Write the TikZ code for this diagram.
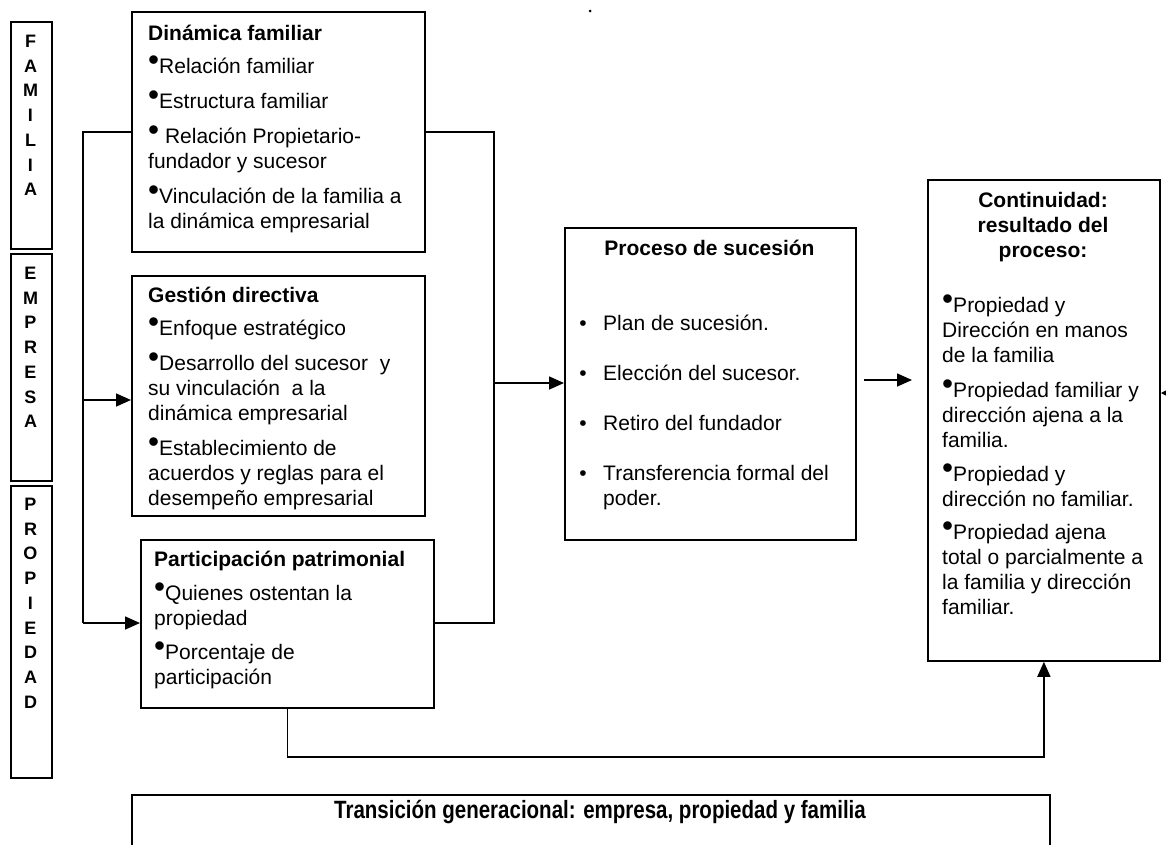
\documentclass[tikz,border=0pt]{standalone}
\usepackage{fontspec}
\setmainfont{Liberation Sans}
\usepackage{graphicx}
\usetikzlibrary{arrows.meta}

% raised bullet used in the item lists
\newcommand\bul{\raisebox{3pt}{\scalebox{1.5}{•}}}
% list bullet hanging left of the text
\newcommand\lbul{\llap{•\hspace{16.5pt}}}
% fixed first-line height so block tops are predictable
\newcommand\fl{\rule{0pt}{18pt}}

\begin{document}
\begin{tikzpicture}[x=1pt,y=-1pt,
  box/.style={draw, line width=1.8pt, inner sep=0pt, anchor=north west},
  txt/.style={inner sep=0pt, anchor=north west, align=left,
              font=\fontsize{21}{25}\selectfont},
  head/.style={inner sep=0pt, font=\bfseries\fontsize{21}{25}\selectfont},
  letters/.style={inner sep=0pt, anchor=north, align=center,
                  font=\bfseries\fontsize{18}{24.7}\selectfont},
  conn/.style={line width=1.6pt},
  arr/.style={line width=1.6pt, -{Triangle[length=15pt,width=13pt]}}]

\useasboundingbox (0,0) rectangle (1166,844);

% side labels
\node[box, minimum width=41pt, minimum height=227pt] (famBox)  at (10,21)  {};
\node[box, minimum width=41pt, minimum height=227pt] (empBox)  at (10,253) {};
\node[box, minimum width=41pt, minimum height=292pt] (propBox) at (10,485) {};
\node[letters] (famTxt)  at (30.5,35)  {F\\A\\M\\I\\L\\I\\A};
\node[letters] (empTxt)  at (30.5,267) {E\\M\\P\\R\\E\\S\\A};
\node[letters] (propTxt) at (30.5,498) {P\\R\\O\\P\\I\\E\\D\\A\\D};

% input boxes
\node[box, minimum width=293pt, minimum height=240pt] (din) at (131,11)  {};
\node[box, minimum width=293pt, minimum height=240pt] (ges) at (131,275) {};
\node[box, minimum width=293pt, minimum height=168pt] (par) at (140,539) {};

\node[txt] (dinTxt) at (148,22) {\fl\textbf{Dinámica familiar}\\[8pt]
  \bul Relación familiar\\[10pt]
  \bul Estructura familiar\\[10pt]
  \bul\ Relación Propietario-\\
  fundador y sucesor\\[10pt]
  \bul Vinculación de la familia a\\
  la dinámica empresarial};

\node[txt] (gesTxt) at (148,284) {\fl\textbf{Gestión directiva}\\[8pt]
  \bul Enfoque estratégico\\[10pt]
  \bul Desarrollo del sucesor\ \ y\\
  su vinculación\ \ a la\\
  dinámica empresarial\\[10pt]
  \bul Establecimiento de\\
  acuerdos y reglas para el\\
  desempeño empresarial};

\node[txt] (parTxt) at (154,548) {\fl\textbf{Participación patrimonial}\\[9pt]
  \bul Quienes ostentan la\\
  propiedad\\[9pt]
  \bul Porcentaje de\\
  participación};

% succession process
\node[box, minimum width=291pt, minimum height=312pt] (pro) at (564,227) {};
\node[head, anchor=base] (proHead) at (709.5,255) {Proceso de sucesión};
\node[txt] (proTxt) at (603,312) {\fl\lbul Plan de sucesión.\\[25pt]
  \lbul Elección del sucesor.\\[25pt]
  \lbul Retiro del fundador\\[25pt]
  \lbul Transferencia formal del\\
  poder.};

% outcome
\node[box, minimum width=232pt, minimum height=481pt] (con) at (927,179) {};
\node[head, anchor=north, align=center] (conHead) at (1043,189)
  {\fl Continuidad:\\ resultado del\\ proceso:};
\node[txt] (conTxt) at (942,294) {\fl\bul Propiedad y\\
  Dirección en manos\\
  de la familia\\[10pt]
  \bul Propiedad familiar y\\
  dirección ajena a la\\
  familia.\\[9pt]
  \bul Propiedad y\\
  dirección no familiar.\\[8pt]
  \bul Propiedad ajena\\
  total o parcialmente a\\
  la familia y dirección\\
  familiar.};

% bottom banner
\node[box, minimum width=918pt, minimum height=100pt] (tgen) at (131,794) {};
\node[inner sep=0pt, anchor=base] (tgenTxt) at (600,818)
  {\scalebox{0.82}[1]{\bfseries\fontsize{25}{25}\selectfont Transición generacional: empresa, propiedad y familia}};

% stray mark at the top
\node[circle, fill, inner sep=0pt, minimum size=3pt] (speck) at (590,11) {};

% left bracket feeding the three input boxes
\coordinate (Ltop) at (83,132);
\coordinate (Lmid) at (83,400);
\coordinate (Lbot) at (83,623);
\draw[conn] (din.west |- Ltop) -- (Ltop) -- (Lbot);
\draw[arr] (Lmid) -- (ges.west |- Lmid);
\draw[arr] (Lbot) -- (par.west |- Lbot);

% right bracket into the succession process
\coordinate (Rtop) at (494,132);
\coordinate (Rmid) at (494,383);
\coordinate (Rbot) at (494,623);
\draw[conn] (din.east |- Rtop) -- (Rtop) -- (Rbot) -- (par.east |- Rbot);
\draw[arr] (Rmid) -- (pro.west |- Rmid);

% process to outcome
\coordinate (Ps) at (864,380);
\coordinate (Pe) at (912,380);
\draw[arr] (Ps) -- (Pe);

% ownership straight to outcome
\draw[arr] (par.south) -- ++(0,48) -| (con.south);

% arrow entering from the right edge
\coordinate (sideA) at (1190,393);
\coordinate (sideB) at (1161,393);
\draw[line width=0.8pt, -{Triangle[length=5pt,width=5pt]}] (sideA) -- (sideB);

\end{tikzpicture}
\end{document}
